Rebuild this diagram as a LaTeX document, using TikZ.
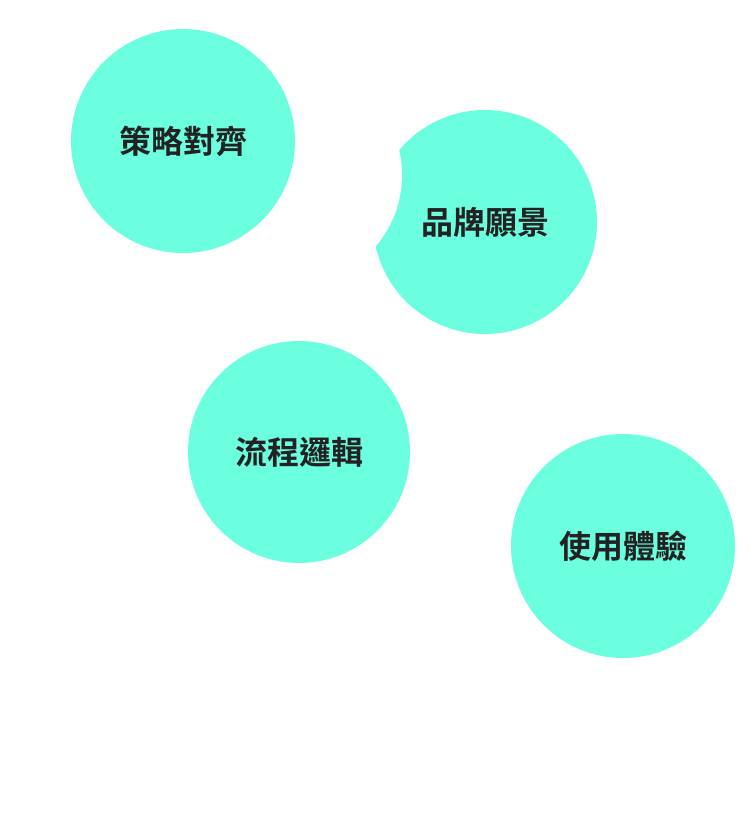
\documentclass[tikz,border=0pt]{standalone}
\usepackage{fontspec}
\newfontfamily\cjk[BoldFont={Noto Sans CJK TC Bold}]{Noto Sans CJK TC}
\definecolor{mint}{HTML}{6BFFE0}
\definecolor{ink}{HTML}{222222}
\begin{document}
\begin{tikzpicture}[x=1pt,y=-1pt,
  bub/.style={circle,fill=mint,minimum size=224pt,inner sep=0pt,font=\cjk\bfseries\fontsize{32}{36}\selectfont,text=ink}]
\useasboundingbox (0,0) rectangle (750,840);
\node[bub] (b) at (485,222) {品牌願景};
\fill[white] (292,175) circle (110);
\node[bub] (a) at (183,141) {策略對齊};
\node[bub,minimum size=222pt] (c) at (299,452) {流程邏輯};
\node[bub] (d) at (623,546) {使用體驗};
\end{tikzpicture}
\end{document}
